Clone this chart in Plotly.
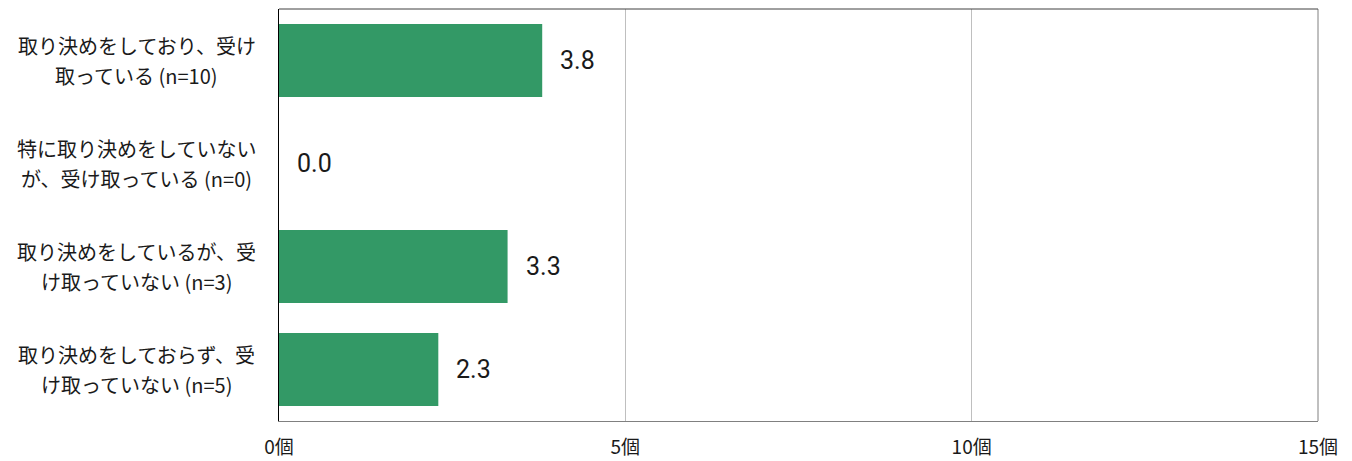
import plotly.graph_objects as go

categories = [
    "取り決めをしており、受け<br>取っている (n=10)",
    "特に取り決めをしていない<br>が、受け取っている (n=0)",
    "取り決めをしているが、受<br>け取っていない (n=3)",
    "取り決めをしておらず、受<br>け取っていない (n=5)",
]
values = [3.8, 0.0, 3.3, 2.3]
tick_vals = [0, 5, 10, 15]
tick_text = ["0個", "5個", "10個", "15個"]

BAR = "#339966"
JP = "Noto Sans CJK JP"
NUM = "Roboto, Noto Sans CJK JP"

fig = go.Figure()
fig.add_trace(go.Bar(
    x=values, y=categories, orientation="h",
    marker=dict(color=BAR, line=dict(width=0)),
    hoverinfo="skip",
))

for c, v in zip(categories, values):
    fig.add_annotation(
        x=v, y=c, xref="x", yref="y", text=f"{v:.1f}",
        showarrow=False, xanchor="left", xshift=16,
        font=dict(family=NUM, size=25, color="#1a1a1a"),
    )
    lines = c.split("<br>")
    for i, ln in enumerate(lines):
        fig.add_annotation(
            x=-0.1367, y=c, xref="paper", yref="y", text=ln,
            showarrow=False, xanchor="center", align="center",
            yshift=15 - 30 * i,
            font=dict(family=JP, size=20, color="#1a1a1a"),
        )

fig.add_shape(type="line", xref="paper", yref="paper", x0=1, x1=1, y0=0, y1=1,
              line=dict(color="#808080", width=1))
fig.add_shape(type="line", xref="paper", yref="paper", x0=0, x1=1, y0=1, y1=1,
              line=dict(color="#404040", width=1))

fig.update_layout(
    width=1344, height=453,
    margin=dict(l=271, r=34, t=1, b=40),
    paper_bgcolor="white", plot_bgcolor="white",
    showlegend=False, bargap=0.29,
    xaxis=dict(
        range=[0, 15], tickvals=tick_vals, ticktext=tick_text,
        showgrid=True, gridcolor="#bfbfbf", gridwidth=1,
        showline=True, linecolor="#808080", linewidth=1, mirror=False,
        zeroline=False, ticks="outside", ticklen=0, ticklabelstandoff=9,
        tickfont=dict(family=JP, size=19, color="#1a1a1a"),
    ),
    yaxis=dict(
        autorange="reversed", showticklabels=False,
        showline=True, linecolor="black", linewidth=1,
        showgrid=False, zeroline=False,
    ),
)

fig.write_html("out.html")
